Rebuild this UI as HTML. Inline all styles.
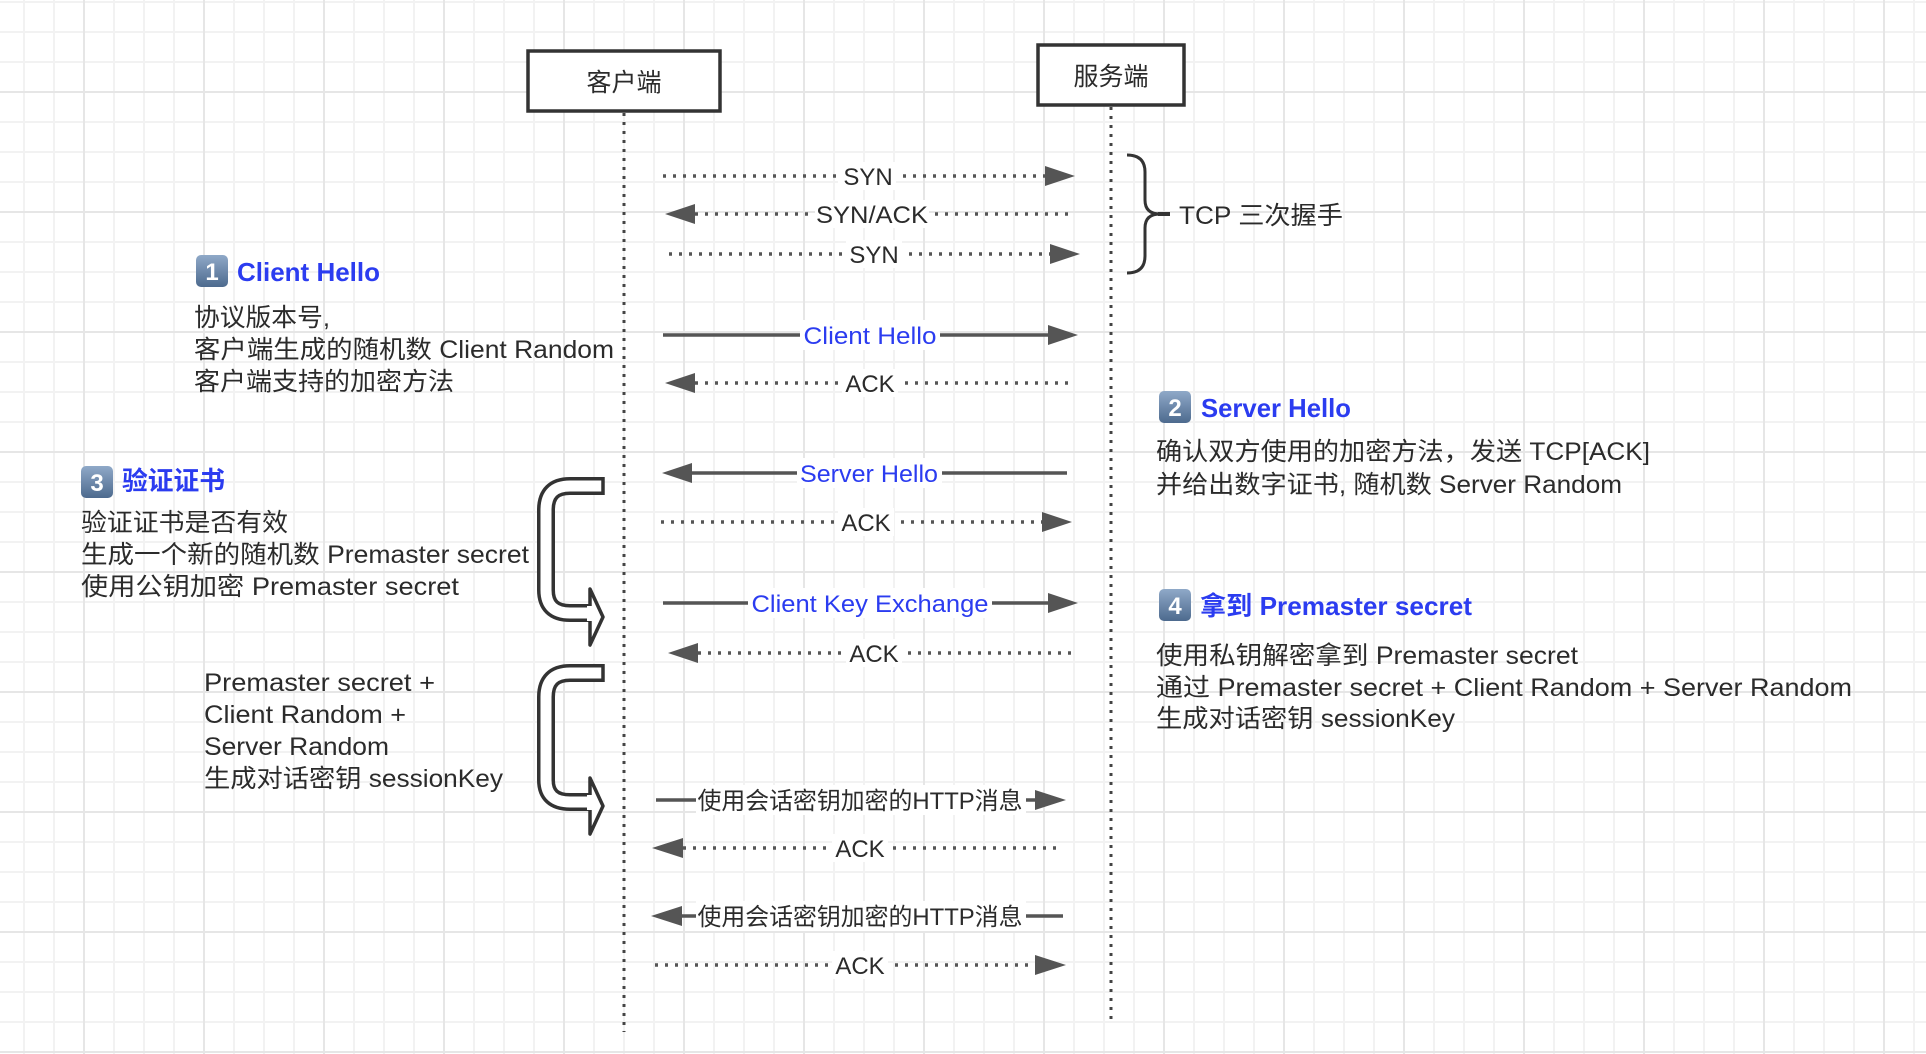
<!DOCTYPE html>
<html><head><meta charset="utf-8"><style>
html,body{margin:0;padding:0;}
body{width:1926px;height:1054px;overflow:hidden;background-color:#fff;
background-image:
linear-gradient(to right,#e6e6e6 2px,transparent 2px),
linear-gradient(to bottom,#e6e6e6 2px,transparent 2px),
linear-gradient(to right,#f2f2f2 2px,transparent 2px),
linear-gradient(to bottom,#f2f2f2 2px,transparent 2px);
background-size:120px 120px,120px 120px,30px 30px,30px 30px;
background-position:83px 0,0 91px,23px 0,0 1px;}
svg{position:absolute;left:0;top:0;}
text{font-family:"Liberation Sans","Noto Sans CJK SC",sans-serif;fill:#2b2b2b;}
.t{font-size:25px;}
.h{font-size:26px;font-weight:bold;fill:#2b3cf0;}
.l{font-size:24px;}
.b{font-size:24px;fill:#2b3cf0;}
</style></head><body>
<svg width="1926" height="1054" viewBox="0 0 1926 1054">
<defs>
<linearGradient id="bg" x1="0" y1="0" x2="0" y2="1"><stop offset="0" stop-color="#8fa9c8"/><stop offset="1" stop-color="#4d6a8e"/></linearGradient>
</defs>
<!-- boxes -->
<rect x="528" y="51" width="192" height="60" fill="#fff" stroke="#333" stroke-width="3.5"/>
<text x="624" y="91" class="t" text-anchor="middle" font-size="26">客户端</text>
<rect x="1038" y="45" width="146" height="60" fill="#fff" stroke="#333" stroke-width="3.5"/>
<text x="1111" y="85" class="t" text-anchor="middle" font-size="26">服务端</text>
<!-- lifelines -->
<line x1="624" y1="113" x2="624" y2="1032" stroke="#444" stroke-width="3" stroke-dasharray="3 6"/>
<line x1="1111" y1="107" x2="1111" y2="1025" stroke="#444" stroke-width="3" stroke-dasharray="3 6"/>
<!-- brace -->
<path d="M1127 155 Q1145 155 1145 172 L1145 200 Q1145 214 1160 214 Q1145 214 1145 228 L1145 256 Q1145 273 1127 273" fill="none" stroke="#333" stroke-width="3"/>
<line x1="1158" y1="214" x2="1170" y2="214" stroke="#333" stroke-width="4"/>
<text x="1179" y="224" class="t" textLength="164" lengthAdjust="spacingAndGlyphs">TCP 三次握手</text>

<g stroke="#555" stroke-width="3.5" fill="none">
<!-- dotted -->
<line x1="663" y1="176" x2="1045" y2="176" stroke-dasharray="3 7"/>
<line x1="695" y1="214" x2="1075" y2="214" stroke-dasharray="3 7"/>
<line x1="669" y1="254" x2="1050" y2="254" stroke-dasharray="3 7"/>
<line x1="695" y1="383" x2="1072" y2="383" stroke-dasharray="3 7"/>
<line x1="661" y1="522" x2="1043" y2="522" stroke-dasharray="3 7"/>
<line x1="698" y1="653" x2="1076" y2="653" stroke-dasharray="3 7"/>
<line x1="683" y1="848" x2="1062" y2="848" stroke-dasharray="3 7"/>
<line x1="655" y1="965" x2="1037" y2="965" stroke-dasharray="3 7"/>
<!-- solid -->
<line x1="663" y1="335" x2="1050" y2="335"/>
<line x1="690" y1="473" x2="1067" y2="473"/>
<line x1="663" y1="603" x2="1050" y2="603"/>
<line x1="656" y1="800" x2="1035" y2="800"/>
<line x1="680" y1="916" x2="1063" y2="916"/>
</g>
<g fill="#555">
<polygon points="1045,166 1075,176 1045,186"/>
<polygon points="695,204 665,214 695,224"/>
<polygon points="1050,244 1080,254 1050,264"/>
<polygon points="1048,325 1078,335 1048,345"/>
<polygon points="695,373 665,383 695,393"/>
<polygon points="692,463 662,473 692,483"/>
<polygon points="1042,512 1072,522 1042,532"/>
<polygon points="1048,593 1078,603 1048,613"/>
<polygon points="698,643 668,653 698,663"/>
<polygon points="1035,790 1066,800 1035,810"/>
<polygon points="683,838 652,848 683,858"/>
<polygon points="682,906 651,916 682,926"/>
<polygon points="1035,955 1066,965 1035,975"/>
</g>
<!-- labels -->
<g fill="#fff">
<rect x="838" y="162" width="58" height="28"/>
<rect x="815" y="200" width="114" height="28"/>
<rect x="846" y="240" width="56" height="28"/>
<rect x="800" y="320" width="140" height="30"/>
<rect x="842" y="369" width="56" height="28"/>
<rect x="797" y="458" width="145" height="30"/>
<rect x="838" y="508" width="56" height="28"/>
<rect x="748" y="588" width="244" height="30"/>
<rect x="846" y="639" width="56" height="28"/>
<rect x="696" y="785" width="330" height="30"/>
<rect x="832" y="834" width="56" height="28"/>
<rect x="696" y="901" width="330" height="30"/>
<rect x="832" y="951" width="56" height="28"/>
</g>
<text x="868" y="185" class="l" text-anchor="middle">SYN</text>
<text x="872" y="223" class="l" text-anchor="middle" textLength="112" lengthAdjust="spacingAndGlyphs">SYN/ACK</text>
<text x="874" y="263" class="l" text-anchor="middle">SYN</text>
<text x="870" y="344" class="b" text-anchor="middle" textLength="133" lengthAdjust="spacingAndGlyphs">Client Hello</text>
<text x="870" y="392" class="l" text-anchor="middle">ACK</text>
<text x="869" y="482" class="b" text-anchor="middle" textLength="138" lengthAdjust="spacingAndGlyphs">Server Hello</text>
<text x="866" y="531" class="l" text-anchor="middle">ACK</text>
<text x="870" y="612" class="b" text-anchor="middle" textLength="237" lengthAdjust="spacingAndGlyphs">Client Key Exchange</text>
<text x="874" y="662" class="l" text-anchor="middle">ACK</text>
<text x="860" y="809" class="l" text-anchor="middle" textLength="325" lengthAdjust="spacingAndGlyphs">使用会话密钥加密的HTTP消息</text>
<text x="860" y="857" class="l" text-anchor="middle">ACK</text>
<text x="860" y="925" class="l" text-anchor="middle" textLength="325" lengthAdjust="spacingAndGlyphs">使用会话密钥加密的HTTP消息</text>
<text x="860" y="974" class="l" text-anchor="middle">ACK</text>

<!-- badges -->
<g>
<rect x="196" y="255" width="32" height="32" rx="5" fill="url(#bg)"/>
<text x="212" y="280" text-anchor="middle" style="fill:#fff;font-size:24px;font-weight:bold">1</text>
<rect x="81" y="466" width="32" height="32" rx="5" fill="url(#bg)"/>
<text x="97" y="491" text-anchor="middle" style="fill:#fff;font-size:24px;font-weight:bold">3</text>
<rect x="1159" y="391" width="32" height="32" rx="5" fill="url(#bg)"/>
<text x="1175" y="416" text-anchor="middle" style="fill:#fff;font-size:24px;font-weight:bold">2</text>
<rect x="1159" y="589" width="32" height="32" rx="5" fill="url(#bg)"/>
<text x="1175" y="614" text-anchor="middle" style="fill:#fff;font-size:24px;font-weight:bold">4</text>
</g>
<!-- headings -->
<text x="237" y="281" class="h" textLength="143" lengthAdjust="spacingAndGlyphs">Client Hello</text>
<text x="122" y="490" class="h" textLength="103" lengthAdjust="spacingAndGlyphs">验证证书</text>
<text x="1201" y="417" class="h" textLength="150" lengthAdjust="spacingAndGlyphs">Server Hello</text>
<text x="1200" y="615" class="h" textLength="272" lengthAdjust="spacingAndGlyphs">拿到 Premaster secret</text>
<!-- left text -->
<text x="194" y="326" class="t" textLength="136" lengthAdjust="spacingAndGlyphs">协议版本号,</text>
<text x="194" y="358" class="t" textLength="420" lengthAdjust="spacingAndGlyphs">客户端生成的随机数 Client Random</text>
<text x="194" y="390" class="t" textLength="260" lengthAdjust="spacingAndGlyphs">客户端支持的加密方法</text>
<text x="81" y="531" class="t" textLength="207" lengthAdjust="spacingAndGlyphs">验证证书是否有效</text>
<text x="81" y="563" class="t" textLength="448" lengthAdjust="spacingAndGlyphs">生成一个新的随机数 Premaster secret</text>
<text x="81" y="595" class="t" textLength="378" lengthAdjust="spacingAndGlyphs">使用公钥加密  Premaster secret</text>
<text x="204" y="691" class="t" textLength="231" lengthAdjust="spacingAndGlyphs">Premaster secret +</text>
<text x="204" y="723" class="t" textLength="202" lengthAdjust="spacingAndGlyphs">Client Random +</text>
<text x="204" y="755" class="t" textLength="185" lengthAdjust="spacingAndGlyphs">Server Random</text>
<text x="204" y="787" class="t" textLength="299" lengthAdjust="spacingAndGlyphs">生成对话密钥 sessionKey</text>
<!-- right text -->
<text x="1156" y="460" class="t" textLength="494" lengthAdjust="spacingAndGlyphs">确认双方使用的加密方法，发送 TCP[ACK]</text>
<text x="1156" y="493" class="t" textLength="466" lengthAdjust="spacingAndGlyphs">并给出数字证书, 随机数 Server Random</text>
<text x="1156" y="664" class="t" textLength="422" lengthAdjust="spacingAndGlyphs">使用私钥解密拿到 Premaster secret</text>
<text x="1156" y="696" class="t" textLength="696" lengthAdjust="spacingAndGlyphs">通过 Premaster secret + Client Random + Server Random</text>
<text x="1156" y="727" class="t" textLength="299" lengthAdjust="spacingAndGlyphs">生成对话密钥 sessionKey</text>

<!-- hollow curved arrows -->
<g>
<path d="M602 486 L570 486 Q546 486 546 510 L546 590 Q546 613 570 613 L592 613" fill="none" stroke="#333" stroke-width="18"/>
<path d="M603 486 L570 486 Q546 486 546 510 L546 590 Q546 613 570 613 L594 613" fill="none" stroke="#fff" stroke-width="11"/>
<polygon points="590,589 603,617 590,645" fill="#fff" stroke="#333" stroke-width="3.5" stroke-linejoin="round"/>
<line x1="590" y1="606" x2="590" y2="621" stroke="#fff" stroke-width="6"/>
<path d="M602 673 L570 673 Q546 673 546 697 L546 780 Q546 802 570 802 L592 802" fill="none" stroke="#333" stroke-width="18"/>
<path d="M603 673 L570 673 Q546 673 546 697 L546 780 Q546 802 570 802 L594 802" fill="none" stroke="#fff" stroke-width="11"/>
<polygon points="590,778 603,806 590,834" fill="#fff" stroke="#333" stroke-width="3.5" stroke-linejoin="round"/>
<line x1="590" y1="795" x2="590" y2="810" stroke="#fff" stroke-width="6"/>
<line x1="603" y1="477" x2="603" y2="495" stroke="#333" stroke-width="3.5"/>
<line x1="603" y1="664" x2="603" y2="682" stroke="#333" stroke-width="3.5"/>
</g>
</svg>
</body></html>
